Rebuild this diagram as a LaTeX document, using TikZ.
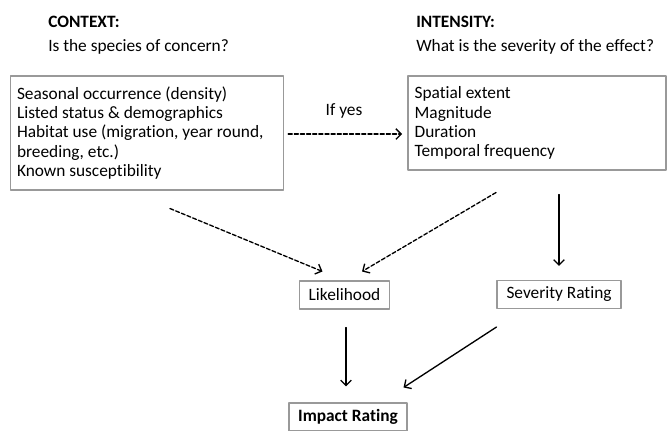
\documentclass[tikz,border=0pt]{standalone}
\usepackage{fontspec}
\setmainfont{Carlito}[Ligatures=NoCommon]
\usetikzlibrary{arrows.meta,calc}
\tikzset{
	box/.style={draw=gray!80, line width=0.8pt, inner xsep=5pt, align=flush left},
	rating/.style={draw=gray!80, line width=0.8pt, minimum height=21pt, inner xsep=5pt},
	head/.style={anchor=base west, inner sep=0pt},
	dasharr/.style={->, dash pattern=on 3pt off 1.6pt, line width=1pt},
	solarr/.style={->, line width=1pt}
}
\begin{document}
\begin{tikzpicture}[x=0.75pt, y=-0.75pt, >={Straight Barb[length=4pt,width=8pt]}, font=\fontsize{13}{14.4}\selectfont, line join=round, line cap=round]
	\useasboundingbox (0,0) rectangle (667,430);
	
	% headings
	\node[head] (ctxhead) at (48,27) {\textbf{CONTEXT:}};
	\node[head] (ctxq) at (48,51) {Is the species of concern?};
	\node[head] (inthead) at (416,27) {\textbf{INTENSITY:}};
	\node[head] (intq) at (416,51) {What is the severity of the effect?};
	
	\node[box, text width=195pt, minimum height=85.5pt] (ctx) at (147,133) {Seasonal occurrence (density)\\Listed status \& demographics\\Habitat use (migration, year round,\\breeding, etc.)\\Known susceptibility};
	\node[box, text width=183.5pt, minimum height=70.5pt] (int) at (537,123) {Spatial extent\\Magnitude\\Duration\\Temporal frequency};
	
	\node[rating, minimum width=67pt] (lik) at (344.5,295) {Likelihood};
	\node[rating, minimum width=93pt] (sev) at (559,294.5) {Severity Rating};
	\node[rating, minimum width=88.5pt] (imp) at (348,417) {\textbf{Impact Rating}};
	
	\node[anchor=base] (ifyes) at (344,115) {If yes};
	
	\coordinate (ctxout) at ($(ctx.south)+(23,18)$);
	\coordinate (intout) at ($(int.south)+(-41,22)$);
	\coordinate (likin1) at ($(lik.north)+(-22,-9)$);
	\coordinate (likin2) at ($(lik.north)+(17.5,-9)$);
	
	\draw[dasharr, shorten <=3pt, shorten >=4pt] (ctx.east |- 0,134) -- (int.west |- 0,134);
	\draw[dasharr] (ctxout) -- (likin1);
	\draw[dasharr] (intout) -- (likin2);
	\draw[solarr] ($(sev.north |- int.south)+(0,24)$) -- ($(sev.north)+(0,-14)$);
	\draw[solarr] ($(lik.south)+(1.5,18)$) -- ($(lik.south |- imp.north)+(1.5,-16)$);
	\draw[solarr] ($(sev.south west)+(0,18)$) -- ($(imp.north east)+(-4,-15)$);
\end{tikzpicture}
\end{document}
